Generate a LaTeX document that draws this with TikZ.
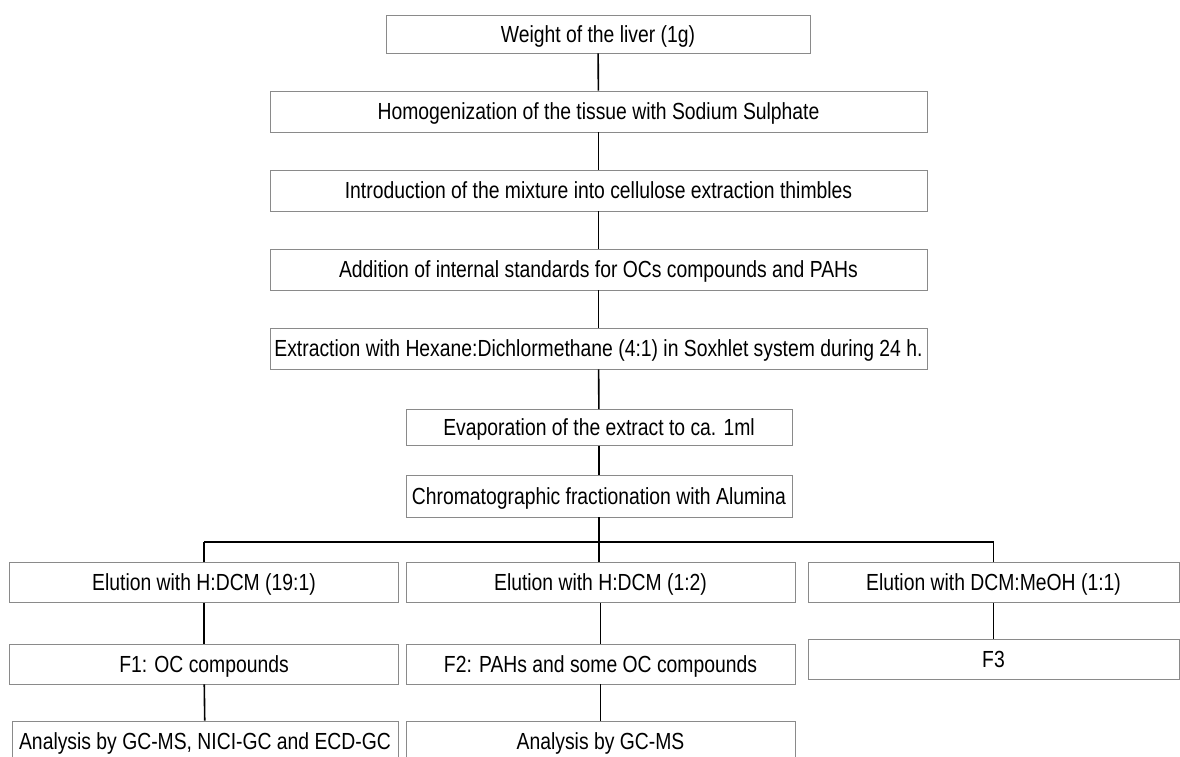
\documentclass[tikz,border=0pt]{standalone}
\usepackage{fontspec}
\setmainfont{Liberation Sans}[FakeStretch=0.83]
\usetikzlibrary{positioning}
\definecolor{frameg}{HTML}{8A8A8A}

\begin{document}
\begin{tikzpicture}[x=1pt, y=-1pt,
  stage/.style={rectangle, draw=frameg, line width=0.7pt, inner sep=0pt,
                font=\fontsize{23.3}{28}\selectfont, text height=16.7pt, text depth=0pt},
  wide/.style={stage, minimum width=657pt, minimum height=41pt},
  mid/.style={stage, minimum width=386pt, minimum height=36pt},
  col/.style={stage, minimum width=389pt, minimum height=40pt},
  link/.style={draw=black, line width=1.6pt},
  bus/.style={draw=black, line width=2.2pt},
]
  \useasboundingbox[fill=white] (0,0) rectangle (1180,756);
  % Sample preparation
  \node[stage, minimum width=424pt, minimum height=38pt] (liver) at (598,34) {Weight of the liver (1g)};
  \node[wide] (homog) at (598.5,111.5) {Homogenization of the tissue with Sodium Sulphate};
  \node[wide] (thimb) at (598.5,190.5) {Introduction of the mixture into cellulose extraction thimbles};
  \node[wide] (istd) at (598.5,269.5) {Addition of internal standards for OCs compounds and PAHs};
  \node[wide] (soxh) at (598.5,348.5) {Extraction with Hexane:Dichlormethane (4:1) in Soxhlet system during 24 h.};
  \node[mid] (evap) at (599,427.5) {Evaporation of the extract to ca. 1ml};
  \node[mid, minimum height=42pt] (alum) at (599,496) {Chromatographic fractionation with Alumina};
  % Fractions
  \node[col] (elA) at (204,582.5) {Elution with H:DCM (19:1)};
  \node[col] (elB) at (600.5,582.5) {Elution with H:DCM (1:2)};
  \node[col, minimum width=371pt] (elC) at (993.5,582.5) {Elution with DCM:MeOH (1:1)};
  \node[col] (fA) at (204,664) {F1: OC compounds};
  \node[col] (fB) at (600.5,664) {F2: PAHs and some OC compounds};
  \node[col, minimum width=371pt] (fC) at (993.5,659) {F3};
  % Analysis
  \node[col, minimum width=386pt] (anA) at (205,741) {Analysis by GC-MS, NICI-GC and ECD-GC};
  \node[col] (anB) at (600.5,741) {Analysis by GC-MS};

  % Connectors
  \foreach \a/\b in {liver/homog, homog/thimb, thimb/istd, istd/soxh, soxh/evap, evap/alum}
    \draw[link] (\a) -- (\b);
  \coordinate (split) at (alum.south |- 0,542);
  \draw[link] (alum.south) -- (alum.south |- elB.north);
  \draw[link] (elA.north) -- (elA.north |- split);
  \draw[link] (elC.north) -- (elC.north |- split);
  \draw[bus] (elA.north |- split) -- (elC.north |- split);
  \foreach \a/\b in {elA/fA, fA/anA, elB/fB, fB/anB, elC/fC}
    \draw[link] (\a) -- (\b);
\end{tikzpicture}
\end{document}
